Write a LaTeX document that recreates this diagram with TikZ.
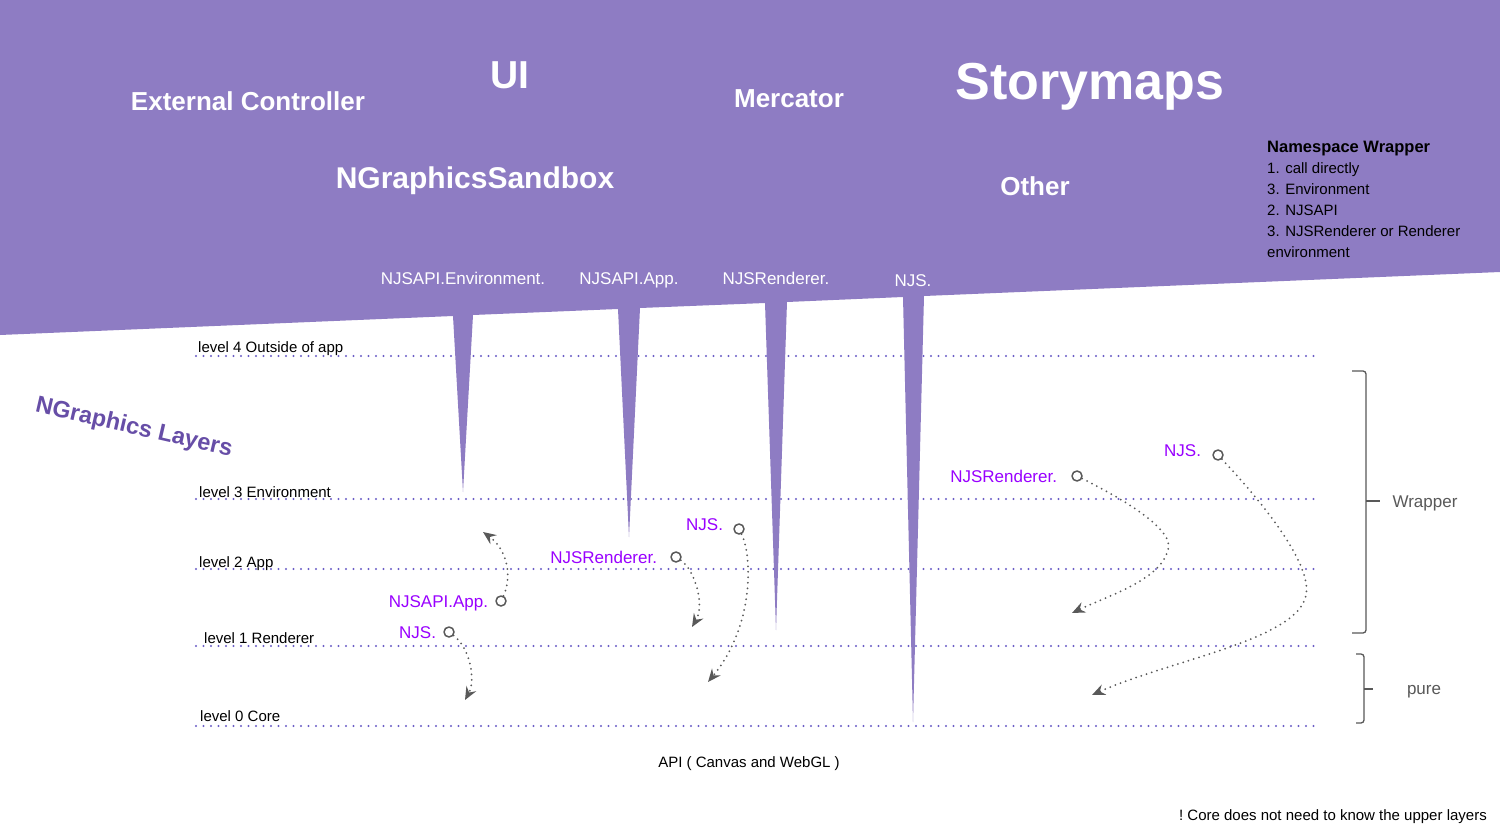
\documentclass[tikz,border=0pt]{standalone}
\usepackage{fontspec}
\setmainfont{Liberation Sans}
\usepackage{tikz}
\usetikzlibrary{arrows.meta, positioning}

\definecolor{bandpurple}{HTML}{8E7CC3}
\definecolor{tagviolet}{HTML}{9900FF}
\definecolor{layerpurple}{HTML}{674EA7}
\definecolor{dotblue}{HTML}{6A5CC6}
\definecolor{inkgray}{HTML}{595959}

\begin{document}
\begin{tikzpicture}
[
    x = 1pt, y = -1pt,
    every node/.style = {inner sep = 0pt},
    line join = round
  ]

  \tikzset{HeadStyle/.style  = {text = white, anchor = base, font = \bfseries},
           SpikeStyle/.style = {text = white, anchor = base,
                                font = \fontsize{17}{20}\selectfont},
           LevelStyle/.style = {anchor = base west, font = \fontsize{15}{18}\selectfont},
           LevelLine/.style  = {draw = dotblue, line width = 2.2pt, line cap = round,
                                dash pattern = on 0pt off 7.5pt},
           PortStyle/.style  = {shape = circle, draw = inkgray, fill = white,
                                line width = 1.5pt, minimum size = 10pt},
           TagStyle/.style   = {text = tagviolet, text height = 12.2pt, text depth = 0pt,
                                font = \fontsize{17}{20}\selectfont},
           FlowStyle/.style  = {draw = inkgray, line width = 2pt, line cap = round,
                                dash pattern = on 0pt off 5.5pt,
                                -{Stealth[length = 13pt, width = 11pt, inset = 4.5pt]}},
           BraceStyle/.style = {draw = inkgray, line width = 1.3pt, rounded corners = 3pt},
           SideStyle/.style  = {text = inkgray, anchor = base,
                                font = \fontsize{17}{20}\selectfont}}

  \useasboundingbox (0,0) rectangle (1500,840);
  \fill[white] (0,0) rectangle (1500,840);

  % layers
  \foreach \x/\yb/\yl/\txt [count=\i] in {198/352/356/level 4 Outside of app,
                                          199/497/499/level 3 Environment,
                                          199/567/569/level 2 App,
                                          204/643/646/level 1 Renderer,
                                          200/721/726/level 0 Core}
  {
    \draw[LevelLine] (196,\yl) -- (1315,\yl);
    \node[LevelStyle] (lv\i) at (\x,\yb) {\txt};
  }

  % purple band with the four spikes
  \fill[bandpurple] (0,0) -- (1500,0) -- (1500,272)
     -- (924,296) -- (913,722) -- (903,297)
     -- (787,302) -- (776,630) -- (765,303)
     -- (640,308) -- (629,537) -- (618,309)
     -- (473,315) -- (463,492) -- (453,316)
     -- (0,335) -- cycle;

  \node[HeadStyle, font = \fontsize{26}{30}\selectfont\bfseries] (ext) at (248,111) {External Controller};
  \node[HeadStyle, font = \fontsize{39}{44}\selectfont\bfseries] (ui) at (510,89) {UI};
  \node[HeadStyle, font = \fontsize{26}{30}\selectfont\bfseries] (merc) at (789,108) {Mercator};
  \node[HeadStyle, font = \fontsize{52}{58}\selectfont\bfseries] (story) at (1090,100) {Storymaps};
  \node[HeadStyle, font = \fontsize{30}{34}\selectfont\bfseries] (sandbox) at (475,189) {NGraphicsSandbox};
  \node[HeadStyle, font = \fontsize{26}{30}\selectfont\bfseries] (other) at (1035,196) {Other};

  \node[anchor = north west, align = left, font = \fontsize{15}{21}\selectfont] (ns) at (1267,141)
    {{\fontsize{16.5}{21}\selectfont\bfseries Namespace Wrapper}\\
     1. call directly\\
     3. Environment\\
     2. NJSAPI\\
     3. NJSRenderer or Renderer\\
     environment};

  \node[SpikeStyle] (s1) at (463,284) {NJSAPI.Environment.};
  \node[SpikeStyle] (s2) at (629,284) {NJSAPI.App.};
  \node[SpikeStyle] (s3) at (776,284) {NJSRenderer.};
  \node[SpikeStyle] (s4) at (913,286) {NJS.};

  \node[rotate = -13, text = layerpurple, font = \fontsize{23.5}{28}\selectfont\bfseries]
    (title) at (134,428) {NGraphics Layers};

  % calls
  \node[PortStyle] (p1) at (501,601) {};
  \node[PortStyle] (p2) at (449,632) {};
  \node[PortStyle] (p3) at (676,557) {};
  \node[PortStyle] (p4) at (739,529) {};
  \node[PortStyle] (p5) at (1077,476) {};
  \node[PortStyle] (p6) at (1218,455) {};

  \node[TagStyle, left = 7pt of p1] (t1) {NJSAPI.App.};
  \node[TagStyle, left = 7pt of p2] (t2) {NJS.};
  \node[TagStyle, left = 13pt of p3] (t3) {NJSRenderer.};
  \node[TagStyle, left = 10pt of p4, yshift = 5pt] (t4) {NJS.};
  \node[TagStyle, left = 14pt of p5] (t5) {NJSRenderer.};
  \node[TagStyle, left = 11pt of p6, yshift = 5pt] (t6) {NJS.};

  \coordinate (e1) at (483,532);
  \coordinate (e2) at (465,700);
  \coordinate (e3) at (692,627);
  \coordinate (e4) at (708,682);
  \coordinate (e5) at (1072,613);
  \coordinate (e6) at (1092,695);

  \draw[FlowStyle] (p1) .. controls (512,578) and (508,550) .. (e1);
  \draw[FlowStyle] (p2) .. controls (470,648) and (476,680) .. (e2);
  \draw[FlowStyle] (p3) .. controls (695,570) and (705,605) .. (e3);
  \draw[FlowStyle] (p4) .. controls (752,555) and (755,625) .. (e4);
  \draw[FlowStyle] (p5) .. controls (1125,500) and (1175,530) .. (1168,550)
                        .. controls (1160,580) and (1110,595) .. (e5);
  \draw[FlowStyle] (p6) .. controls (1265,505) and (1312,565) .. (1306,595)
                        .. controls (1298,640) and (1170,660) .. (e6);

  % braces
  \draw[BraceStyle] (1352,371) -- (1366,371) -- (1366,633) -- (1352,633);
  \draw[BraceStyle] (1366,501) -- (1380,501);
  \draw[BraceStyle] (1356,654) -- (1364,654) -- (1364,723) -- (1356,723);
  \draw[BraceStyle] (1364,689) -- (1373,689);

  \node[SideStyle] (wrap) at (1425,507) {Wrapper};
  \node[SideStyle] (pure) at (1424,694) {pure};

  \node[anchor = base, font = \fontsize{15}{18}\selectfont] (api) at (749,767) {API ( Canvas and WebGL )};
  \node[anchor = base east, font = \fontsize{15}{18}\selectfont] (note) at (1487,820)
    {!\ Core does not need to know the upper layers};
\end{tikzpicture}
\end{document}
